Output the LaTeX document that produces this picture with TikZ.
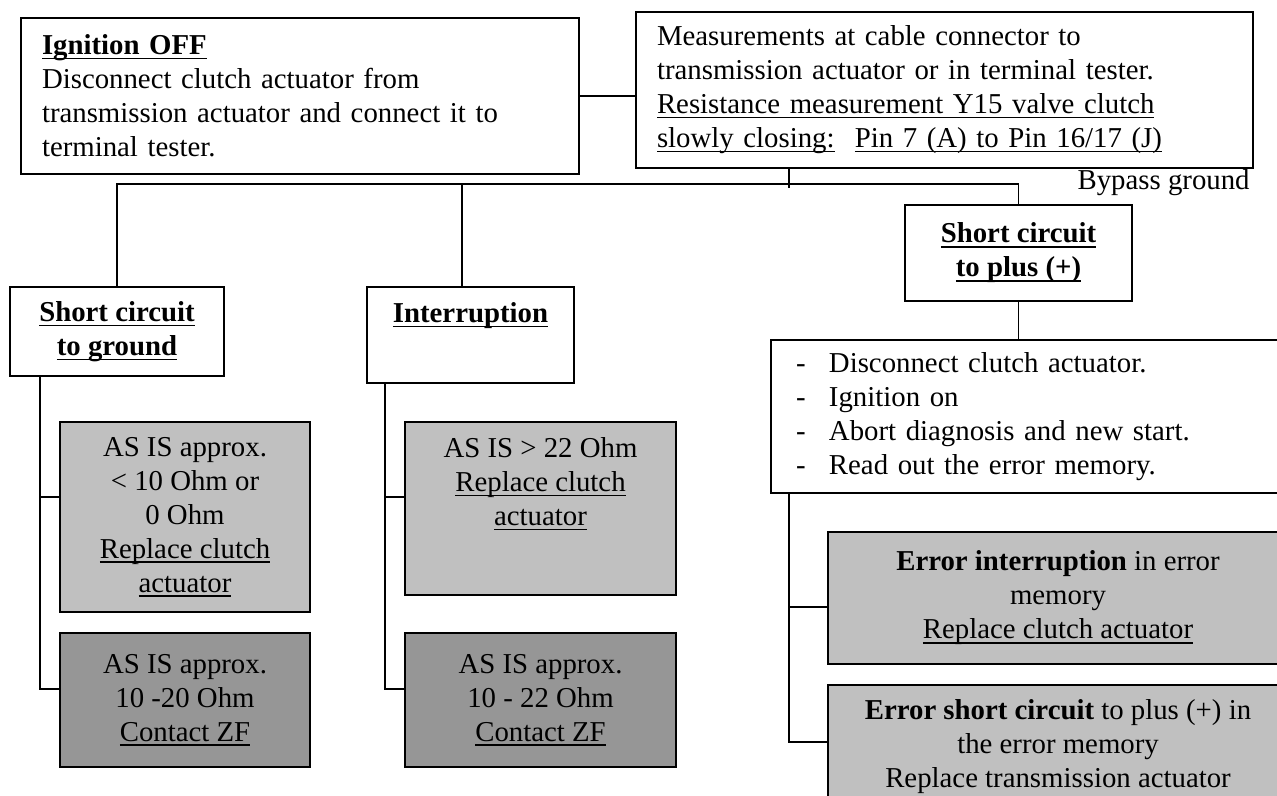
\documentclass[tikz,border=0pt]{standalone}
\usepackage{fontspec}
\setmainfont{Liberation Serif}
\newcommand{\ulin}[1]{\leavevmode\setbox0\hbox{#1}\rlap{\rule[-2.3pt]{\wd0}{0.7pt}}\box0}
\definecolor{lightgrey}{HTML}{C0C0C0}
\definecolor{darkgrey}{HTML}{969696}
\tikzset{
	box/.style={draw, line width=1pt, anchor=north west, inner sep=0pt, font=\fontsize{14.4}{17}\selectfont},
	textbox/.style={box, align=left, inner xsep=10.5pt},
	headbox/.style={box, align=center, font=\fontsize{14.4}{17}\selectfont\bfseries},
	resultbox/.style={box, align=center, fill=lightgrey},
	contactbox/.style={box, align=center, fill=darkgrey},
	link/.style={line width=0.9pt}
}
\begin{document}
\begin{tikzpicture}[x=0.5pt, y=-0.5pt]
	\useasboundingbox (0,0) rectangle (1277,796);

	\node (ign) [textbox, text width=258pt, minimum height=78pt] at (20,17) {\textbf{\ulin{Ignition OFF}}\\Disconnect clutch actuator from\\transmission actuator and connect it to\\terminal tester.};
	\node (meas) [textbox, text width=287.5pt, minimum height=78pt] at (635,11) {Measurements at cable connector to\\transmission actuator or in terminal tester.\\\ulin{Resistance measurement Y15 valve clutch}\\\ulin{slowly closing:}\hspace{0.7em}\ulin{Pin 7 (A) to Pin 16/17 (J)}};
	\node (bypass) [anchor=base east, font=\fontsize{14.4}{17}\selectfont, inner sep=0pt] at (1250,190) {Bypass ground};

	\node (scg) [headbox, minimum width=107pt, minimum height=44.5pt] at (9,286) {\ulin{Short circuit}\\\ulin{to ground}};
	\node (intr) [headbox, minimum width=103.5pt, minimum height=48pt] at (366,286) {\ulin{Interruption}\\\strut};
	\node (scp) [headbox, minimum width=113.5pt, minimum height=48pt] at (904,204) {\ulin{Short circuit}\\\ulin{to plus (+)}};

	\node (gs1) [resultbox, minimum width=125pt, minimum height=95pt] at (59,421) {AS IS approx.\\< 10 Ohm or\\0 Ohm\\\ulin{Replace clutch}\\\ulin{actuator}};
	\node (gd1) [contactbox, minimum width=125pt, minimum height=67pt] at (59,632) {AS IS approx.\\10 -20 Ohm\\\ulin{Contact ZF}};
	\node (gs2) [resultbox, minimum width=135.5pt, minimum height=86.5pt] at (404,421) {AS IS > 22 Ohm\\\ulin{Replace clutch}\\\ulin{actuator}\\[5pt]\strut};
	\node (gd2) [contactbox, minimum width=135.5pt, minimum height=67pt] at (404,632) {AS IS approx.\\10 - 22 Ohm\\\ulin{Contact ZF}};

	\node (lst) [textbox, text width=235pt, minimum height=76.5pt, inner xsep=12.5pt] at (770,339) {\makebox[16.5pt][l]{-}Disconnect clutch actuator.\\\makebox[16.5pt][l]{-}Ignition on\\\makebox[16.5pt][l]{-}Abort diagnosis and new start.\\\makebox[16.5pt][l]{-}Read out the error memory.};
	\node (err1) [resultbox, minimum width=230pt, minimum height=66pt] at (827,531) {\textbf{Error interruption} in error\\memory\\\ulin{Replace clutch actuator}};
	\node (err2) [resultbox, minimum width=230pt, minimum height=62pt] at (827,684) {\textbf{Error short circuit} to plus (+) in\\the error memory\\Replace transmission actuator};

	\coordinate (mtap) at (789,188);
	\coordinate (bus) at (0,184);
	\coordinate (itap) at (462,184);
	\coordinate (g1) at (40,497);
	\coordinate (g2) at (40,689);
	\coordinate (i1) at (385,497);
	\coordinate (i2) at (385,689);
	\coordinate (r1) at (789,607);
	\coordinate (r2) at (789,742);

	\draw[link] (ign.east) -- (ign.east -| meas.west);
	\draw[link] (mtap |- meas.south) -- (mtap);
	\draw[link] (scg.north) -- (scg.north |- bus) -| (scp.north);
	\draw[link] (itap) -- (itap |- intr.north);
	\draw[link] (scp.south) -- (scp.south |- lst.north);

	\draw[link] (g1 |- scg.south) -- (g2) -- (g2 -| gd1.west);
	\draw[link] (g1) -- (g1 -| gs1.west);
	\draw[link] (i1 |- intr.south) -- (i2) -- (i2 -| gd2.west);
	\draw[link] (i1) -- (i1 -| gs2.west);
	\draw[link] (r1 |- lst.south) -- (r2) -- (r2 -| err2.west);
	\draw[link] (r1) -- (r1 -| err1.west);

\end{tikzpicture}
\end{document}
